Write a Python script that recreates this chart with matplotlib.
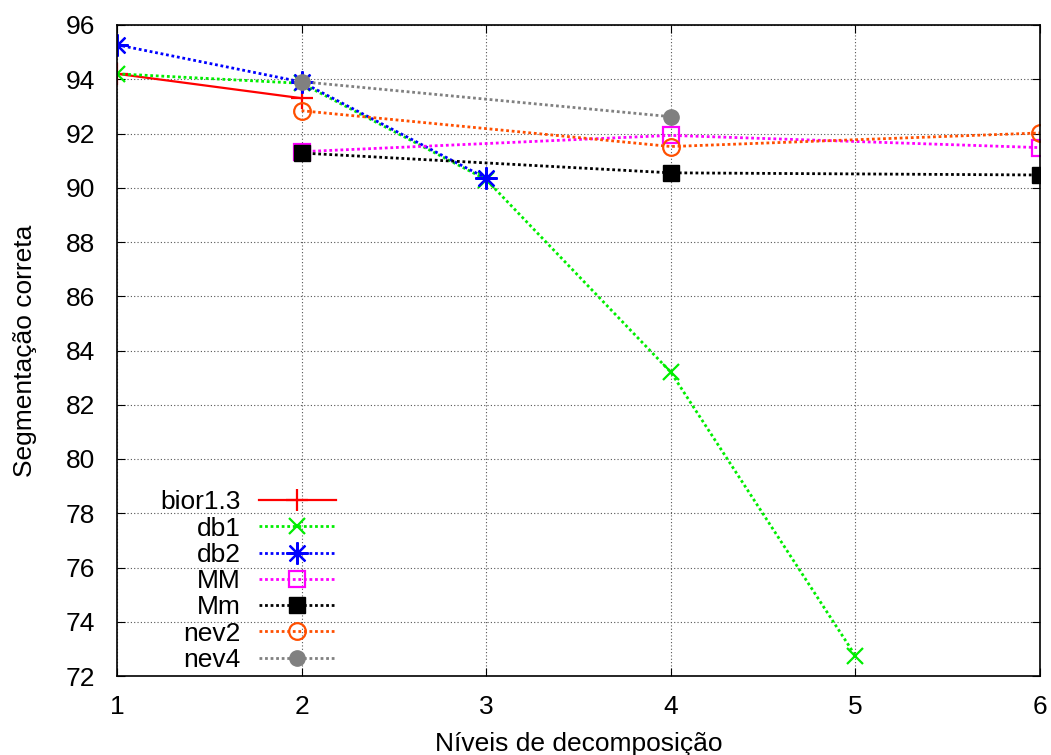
import matplotlib
matplotlib.use("Agg")
import matplotlib.pyplot as plt

plt.rcParams['font.family'] = ['Liberation Sans', 'DejaVu Sans']

# valores
levels_bior13 = [1, 2]
bior13 = [94.2, 93.3]
levels_db1 = [1, 2, 3, 4, 5]
db1 = [94.2, 93.85, 90.3, 83.2, 72.75]
levels_db2 = [1, 2, 3]
db2 = [95.27, 93.9, 90.35]
levels_MM = [2, 4, 6]
MM = [91.33, 91.93, 91.48]
levels_Mm = [2, 4, 6]
Mm = [91.28, 90.55, 90.47]
levels_nev2 = [2, 4, 6]
nev2 = [92.84, 91.52, 92.02]
levels_nev4 = [2, 4]
nev4 = [93.91, 92.62]

xticks = [1, 2, 3, 4, 5, 6]
yticks = list(range(72, 97, 2))

dots = (0, (1, 1))
fs = 19

fig = plt.figure(figsize=(10.51, 7.55), dpi=100)
ax = fig.add_axes([117 / 1051, 1 - 676 / 755, (1040 - 117) / 1051, (676 - 25) / 755])

ax.plot(levels_bior13, bior13, color='#ff0000', lw=1.6, marker='+', ms=16, mew=1.6,
        label='bior1.3')
ax.plot(levels_db1, db1, color='#00ee00', lw=2, ls=dots, marker='x', ms=12, mew=1.6,
        label='db1')
ax.plot(levels_db2, db2, color='#0000ff', lw=2, ls=dots, marker=(8, 2, 0), ms=16, mew=1.6,
        label='db2')
ax.plot(levels_MM, MM, color='#ff00ff', lw=2, ls=dots, marker='s', ms=12, mew=1.6,
        mfc='none', label='MM')
ax.plot(levels_Mm, Mm, color='#000000', lw=2, ls=dots, marker='s', ms=12,
        label='Mm')
ax.plot(levels_nev2, nev2, color='#ff4f00', lw=2, ls=dots, marker='o', ms=12, mew=1.6,
        mfc='none', label='nev2')
ax.plot(levels_nev4, nev4, color='#808080', lw=2, ls=dots, marker='o', ms=11,
        label='nev4')

ax.set_xlim(1, 6)
ax.set_ylim(72, 96)
ax.set_xticks(xticks)
ax.set_yticks(yticks)
ax.tick_params(direction='in', length=6, top=True, right=True, labelsize=fs)
ax.tick_params(axis='y', pad=16)
ax.tick_params(axis='x', pad=14)
ax.grid(True, color='#555555', ls=(0, (1, 2)), lw=0.8)
for s in ax.spines.values():
    s.set_linewidth(1.2)
ax.set_axisbelow(True)

ax.set_xlabel('Níveis de decomposição', fontsize=fs, labelpad=9)
ax.set_ylabel('Segmentação correta', fontsize=fs, labelpad=20)

ax.legend(loc='lower left', bbox_to_anchor=(0.024, -0.026), frameon=False,
          markerfirst=False, fontsize=fs, handlelength=2.9, labelspacing=0.085,
          handletextpad=0.7, borderpad=0.3)

fig.savefig('out.png', dpi=100)
